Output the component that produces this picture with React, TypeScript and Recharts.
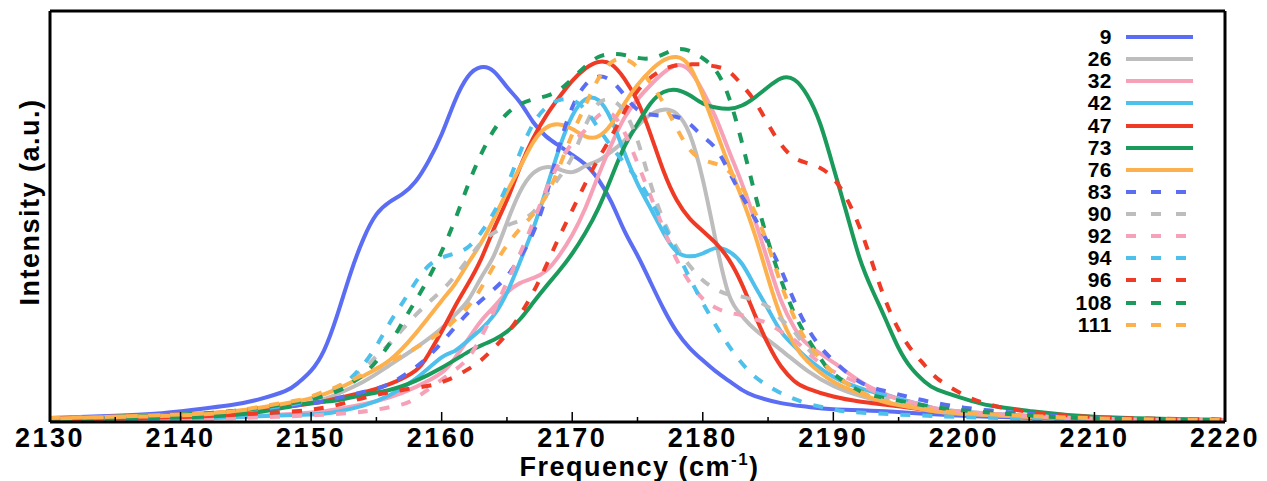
import React from "react";
import { LineChart, Line, XAxis, YAxis, Legend } from "recharts";

const FONT = "'Liberation Sans', Arial, Helvetica, sans-serif";

const W = 1267;
const H = 481;
const PLOT_TOP = 12;
const PLOT_BOTTOM = 422;
const PLOT_LEFT = 50;
const PLOT_RIGHT = 1225;

const X_TICKS = [
  2130, 2135, 2140, 2145, 2150, 2155, 2160, 2165, 2170, 2175, 2180, 2185, 2190,
  2195, 2200, 2205, 2210, 2215, 2220,
];
const Y_MAX = 100;

const BLUE = "#5b6ef3";
const GRAY = "#bdbdbd";
const PINK = "#f7a1b8";
const LBLUE = "#4ec0ec";
const RED = "#ef3b25";
const GREEN = "#1a9a5b";
const ORANGE = "#fdb14e";

type Pt = [number, number];

const s9: Pt[] = [
  [2130, 1], [2135, 1.5], [2138, 2], [2141, 3], [2144, 4.2], [2146, 5.5], [2148, 7.5],
  [2149, 9.5], [2150, 12.5], [2151, 17.5], [2152, 26], [2153, 36], [2154, 44.5],
  [2155, 50.5], [2156, 53.5], [2157, 55.5], [2158, 58.5], [2159, 63.5], [2160, 70],
  [2161, 78], [2162, 84], [2163, 86.3], [2164, 85.3], [2165, 81.5], [2166, 77.8],
  [2167, 73], [2168, 69.5], [2169, 67.2], [2170, 65], [2171, 62.7], [2172, 59],
  [2173, 53.5], [2174, 46.5], [2175, 40.5], [2176, 34], [2177, 27.5], [2178, 22],
  [2179, 18], [2180, 15], [2181, 12.3], [2182, 10], [2183, 7.8], [2184, 6.3],
  [2186, 4.6], [2188, 3.7], [2190, 3.1], [2194, 2.6], [2200, 1.5], [2210, 0.7], [2220, 0.4],
];

const s26: Pt[] = [
  [2130, 0.7], [2140, 1.5], [2145, 2.5], [2150, 4.8], [2152, 6.8], [2154, 9.8],
  [2156, 13.8], [2158, 18], [2160, 22.8], [2161, 26], [2162, 29.5], [2163, 35],
  [2164, 40.5], [2165, 48.5], [2166, 56], [2167, 60.5], [2168, 62], [2169, 61.5],
  [2170, 60.8], [2171, 62.3], [2172, 63.6], [2173, 65.8], [2174, 68.5], [2175, 72],
  [2176, 74.8], [2177, 76], [2178, 75], [2179, 70], [2180, 59], [2181, 44], [2182, 31],
  [2183, 25.8], [2184, 22.5], [2186, 17.5], [2188, 12.5], [2190, 8.8], [2192, 6.4],
  [2194, 4.8], [2197, 3], [2200, 2], [2210, 0.8], [2220, 0.4],
];

const s32: Pt[] = [
  [2130, 0.4], [2140, 0.8], [2145, 1.3], [2150, 2.3], [2152, 3.1], [2154, 4.3],
  [2156, 6], [2158, 8.5], [2160, 12], [2161, 15.5], [2162, 20], [2163, 24.5],
  [2164, 28], [2165, 31.5], [2166, 33.8], [2167, 35], [2168, 36.8], [2169, 40.5],
  [2170, 45.5], [2171, 52], [2172, 60], [2173, 67.5], [2174, 74], [2175, 78.5],
  [2176, 82], [2177, 85], [2178, 86.8], [2179, 85.5], [2180, 80.5], [2181, 74],
  [2182, 66], [2183, 58], [2184, 49], [2185, 39], [2186, 29.5], [2187, 23],
  [2188, 19], [2190, 14.5], [2192, 10], [2194, 6.8], [2197, 3.5], [2200, 2.2],
  [2210, 0.8], [2220, 0.4],
];

const s42: Pt[] = [
  [2130, 0.5], [2140, 0.8], [2145, 1.3], [2150, 1.8], [2152, 2.5], [2154, 4],
  [2156, 6.5], [2158, 10.5], [2160, 15.7], [2161, 17.3], [2162, 19.8], [2163, 22.5],
  [2164, 26], [2165, 31.5], [2166, 39], [2167, 47], [2168, 56.5], [2169, 66.5],
  [2170, 74.5], [2171, 78.5], [2172, 78.3], [2173, 73.5], [2174, 65.5], [2175, 58],
  [2176, 52], [2177, 46], [2178, 41.5], [2179, 40.3], [2180, 41], [2181, 42.3],
  [2182, 41.5], [2183, 38.5], [2184, 33], [2185, 27.5], [2186, 22], [2187, 18.5],
  [2188, 15.5], [2190, 11], [2192, 8.3], [2194, 6.5], [2197, 4], [2200, 2.5],
  [2210, 0.8], [2220, 0.4],
];

const s47: Pt[] = [
  [2130, 0.8], [2140, 1.8], [2145, 2.8], [2150, 4.5], [2152, 5.8], [2154, 7.2],
  [2156, 9.2], [2158, 12.5], [2159, 16.5], [2160, 22], [2161, 28], [2162, 33.5],
  [2163, 39.5], [2164, 47], [2165, 54], [2166, 62], [2167, 69], [2168, 74.5],
  [2169, 79], [2170, 83], [2171, 86], [2172, 87.6], [2173, 87], [2174, 83.5],
  [2175, 78], [2176, 70], [2177, 61], [2178, 54], [2179, 49.5], [2180, 46.5],
  [2181, 43.5], [2182, 39.5], [2183, 33.5], [2184, 26], [2185, 19], [2186, 13.5],
  [2187, 10], [2188, 8.2], [2190, 6.2], [2192, 5], [2194, 4.2], [2197, 3], [2200, 2.2],
  [2210, 0.8], [2220, 0.4],
];

const s73: Pt[] = [
  [2130, 0.5], [2140, 1.1], [2145, 2], [2148, 3.5], [2150, 4.6], [2152, 5.3],
  [2154, 6.6], [2156, 7.8], [2158, 10], [2160, 13.2], [2162, 17], [2163, 18.6],
  [2164, 20], [2165, 22], [2166, 25], [2167, 29], [2168, 33], [2169, 36.8],
  [2170, 41], [2171, 46], [2172, 52], [2173, 59.5], [2174, 67], [2175, 72.5],
  [2176, 77.5], [2177, 80.3], [2178, 80.8], [2179, 79.5], [2180, 77.5], [2181, 76.5],
  [2182, 76.2], [2183, 77], [2184, 79], [2185, 81.5], [2186, 83.6], [2187, 83.3],
  [2188, 79.5], [2189, 72.5], [2190, 62], [2191, 51], [2192, 40], [2193, 32],
  [2194, 25], [2195, 18], [2196, 13], [2197, 9.8], [2198, 7.8], [2200, 5.7],
  [2202, 4], [2205, 2.7], [2210, 1.3], [2220, 0.5],
];

const s76: Pt[] = [
  [2130, 0.8], [2140, 1.8], [2145, 3], [2148, 4.5], [2150, 5.8], [2152, 8],
  [2154, 11.2], [2156, 15], [2158, 21.5], [2160, 29.5], [2161, 33.5], [2162, 38.5],
  [2163, 43.5], [2164, 49.5], [2165, 56], [2166, 62], [2167, 68], [2168, 71.6],
  [2169, 72.4], [2170, 71.3], [2171, 69.5], [2172, 69.5], [2173, 72.5], [2174, 77.5],
  [2175, 82], [2176, 85.5], [2177, 88], [2178, 88.8], [2179, 86.5], [2180, 79.5],
  [2181, 71], [2182, 62.5], [2183, 54.5], [2184, 45.5], [2185, 35], [2186, 25.5],
  [2187, 19], [2188, 14.8], [2190, 9.8], [2192, 7], [2194, 4.8], [2197, 3],
  [2200, 2], [2210, 0.8], [2220, 0.4],
];

const s83: Pt[] = [
  [2130, 0.7], [2140, 1.5], [2145, 2.6], [2150, 4.5], [2152, 5.8], [2154, 7.3],
  [2156, 9.3], [2158, 13.3], [2159, 16], [2160, 19.3], [2161, 23], [2162, 26.5],
  [2163, 29.5], [2164, 32.3], [2165, 35.5], [2166, 40], [2167, 46], [2168, 55],
  [2169, 67], [2170, 76.5], [2171, 82], [2172, 84], [2173, 83], [2174, 79.5],
  [2175, 76], [2176, 74.8], [2177, 74.5], [2178, 74.2], [2179, 72.5], [2180, 69.5],
  [2181, 66.5], [2182, 61], [2183, 55], [2184, 49.5], [2185, 43.5], [2186, 37],
  [2187, 29.5], [2188, 23], [2189, 18.3], [2190, 15], [2192, 9.8], [2194, 7.5],
  [2196, 5.9], [2200, 3.5], [2205, 2], [2210, 1], [2220, 0.4],
];

const s90: Pt[] = [
  [2130, 0.8], [2140, 1.8], [2145, 3], [2148, 4.3], [2150, 5.5], [2152, 8.5],
  [2154, 13], [2155, 16], [2156, 19], [2158, 26], [2160, 32], [2161, 35.5],
  [2162, 39.5], [2163, 43.5], [2164, 46], [2165, 47.8], [2166, 49], [2167, 51],
  [2168, 55], [2169, 59.5], [2170, 64.5], [2171, 72], [2172, 77.5], [2173, 78.3],
  [2174, 75.5], [2175, 68.5], [2176, 58], [2177, 49], [2178, 42.5], [2179, 38],
  [2180, 34.5], [2181, 32.3], [2182, 31], [2183, 30.5], [2184, 29.5], [2185, 28],
  [2186, 25], [2187, 22], [2188, 18], [2190, 12], [2192, 7.5], [2194, 5.5],
  [2197, 3.5], [2200, 2.2], [2210, 0.8], [2220, 0.4],
];

const s92: Pt[] = [
  [2130, 0.3], [2140, 0.6], [2145, 1], [2150, 1.6], [2153, 2.2], [2155, 3],
  [2157, 4.3], [2158, 5.8], [2159, 8], [2160, 10.3], [2161, 12.6], [2162, 15.5],
  [2163, 20.5], [2164, 27], [2165, 34], [2166, 41], [2167, 48.5], [2168, 56.5],
  [2169, 63], [2170, 67.8], [2171, 71], [2172, 74.5], [2173, 75], [2174, 70.5],
  [2175, 63], [2176, 55], [2177, 47], [2178, 39.5], [2179, 34], [2180, 30],
  [2181, 27.8], [2182, 26.6], [2183, 26], [2184, 25], [2185, 24], [2186, 22],
  [2187, 20], [2188, 17], [2189, 14.3], [2190, 12.3], [2192, 9.3], [2194, 6.5],
  [2197, 4], [2200, 2.5], [2210, 0.8], [2220, 0.4],
];

const s94: Pt[] = [
  [2130, 0.7], [2140, 1.6], [2145, 2.8], [2148, 4], [2150, 5.5], [2152, 8],
  [2153, 10.5], [2154, 14], [2155, 18.5], [2156, 24], [2157, 29], [2158, 34],
  [2159, 38], [2160, 40], [2161, 41], [2162, 42.5], [2163, 46], [2164, 51],
  [2165, 57.5], [2166, 65.5], [2167, 72.5], [2168, 76.5], [2169, 78.3], [2170, 78.3],
  [2171, 76], [2172, 71.5], [2173, 67], [2174, 63], [2175, 59], [2176, 54],
  [2177, 48], [2178, 41.5], [2179, 35], [2180, 29], [2181, 23.5], [2182, 18.5],
  [2183, 14.3], [2184, 11], [2185, 8.8], [2186, 7], [2188, 4.5], [2190, 3.1],
  [2192, 2.3], [2200, 1.2], [2210, 0.5], [2220, 0.3],
];

const s96: Pt[] = [
  [2130, 0.5], [2140, 1.2], [2145, 1.9], [2150, 3], [2153, 5], [2155, 6.6],
  [2157, 7.8], [2159, 8.8], [2160, 9.7], [2161, 11], [2162, 12.8], [2163, 15],
  [2164, 18], [2165, 21.5], [2166, 26], [2167, 31.5], [2168, 38], [2169, 45],
  [2170, 51.5], [2171, 58], [2172, 64], [2173, 69.5], [2174, 75.5], [2175, 80.5],
  [2176, 83.8], [2177, 85.8], [2178, 86.8], [2179, 87], [2180, 87], [2181, 86.5],
  [2182, 85.3], [2183, 82], [2184, 78], [2185, 72.5], [2186, 67.5], [2187, 64.3],
  [2188, 63], [2189, 61.8], [2190, 59.3], [2191, 54.5], [2192, 47.5], [2193, 38.5],
  [2194, 29.5], [2195, 22.5], [2196, 17.5], [2197, 13.8], [2198, 10.5], [2200, 6.6],
  [2202, 4.2], [2205, 2.5], [2210, 1.2], [2215, 0.8], [2220, 0.6],
];

const s108: Pt[] = [
  [2130, 0.8], [2140, 1.8], [2145, 3], [2148, 4.3], [2150, 5.5], [2152, 7.5],
  [2153, 9.3], [2154, 11.5], [2155, 14.8], [2156, 19], [2157, 24.2], [2158, 29.5],
  [2159, 35], [2160, 41.5], [2161, 49], [2162, 57.5], [2163, 65], [2164, 71],
  [2165, 75], [2166, 77.3], [2167, 78.5], [2168, 79.3], [2169, 80.8], [2170, 83.5],
  [2171, 86.5], [2172, 88.8], [2173, 89.5], [2174, 89.3], [2175, 88.6], [2176, 88.5],
  [2177, 89.5], [2178, 90.7], [2179, 90.3], [2180, 88.5], [2181, 85.5], [2182, 79],
  [2183, 68], [2184, 55.5], [2185, 44], [2186, 34.5], [2187, 26.5], [2188, 20.5],
  [2189, 15.5], [2190, 11.8], [2192, 7.6], [2194, 5.8], [2197, 4], [2200, 2.8],
  [2205, 1.6], [2210, 0.9], [2220, 0.5],
];

const s111: Pt[] = [
  [2130, 1], [2135, 1.2], [2140, 1.6], [2143, 2.2], [2145, 3.1], [2147, 4.2],
  [2149, 5.3], [2150, 6.2], [2151, 7.4], [2152, 8.6], [2154, 11.5], [2156, 14.5],
  [2158, 18], [2160, 22], [2161, 24.8], [2162, 28], [2163, 32.5], [2164, 38],
  [2165, 43], [2166, 47], [2167, 50.5], [2168, 55], [2169, 62], [2170, 70], [2171, 77],
  [2172, 83.5], [2173, 87.5], [2174, 88.3], [2175, 86.3], [2176, 82.5], [2177, 77.5],
  [2178, 71.5], [2179, 66.3], [2180, 63.8], [2181, 62.8], [2182, 61], [2183, 57],
  [2184, 51], [2185, 43], [2186, 33.5], [2187, 25.5], [2188, 19.5], [2190, 12],
  [2192, 7.5], [2194, 5], [2197, 3.2], [2200, 2.2], [2210, 0.9], [2220, 0.5],
];

const SERIES = [
  { name: "9", color: BLUE, dashed: false, pts: s9 },
  { name: "26", color: GRAY, dashed: false, pts: s26 },
  { name: "32", color: PINK, dashed: false, pts: s32 },
  { name: "42", color: LBLUE, dashed: false, pts: s42 },
  { name: "47", color: RED, dashed: false, pts: s47 },
  { name: "73", color: GREEN, dashed: false, pts: s73 },
  { name: "76", color: ORANGE, dashed: false, pts: s76 },
  { name: "83", color: BLUE, dashed: true, pts: s83 },
  { name: "90", color: GRAY, dashed: true, pts: s90 },
  { name: "92", color: PINK, dashed: true, pts: s92 },
  { name: "94", color: LBLUE, dashed: true, pts: s94 },
  { name: "96", color: RED, dashed: true, pts: s96 },
  { name: "108", color: GREEN, dashed: true, pts: s108 },
  { name: "111", color: ORANGE, dashed: true, pts: s111 },
];

function BottomTick(props: any) {
  const { x, payload } = props;
  const v = payload.value as number;
  const major = v % 10 === 0;
  return (
    <g>
      <line
        x1={x}
        x2={x}
        y1={PLOT_BOTTOM}
        y2={PLOT_BOTTOM - (major ? 10 : 5)}
        stroke="#000"
        strokeWidth={1.5}
      />
      {major && (
        <text
          x={x}
          y={447}
          textAnchor="middle"
          fontFamily={FONT}
          fontWeight={700}
          fontSize={27}
          letterSpacing={2.5}
          fill="#000"
        >
          {v}
        </text>
      )}
    </g>
  );
}

function NoLabel() {
  return <g />;
}

function XTitle() {
  return (
    <text
      x={(PLOT_LEFT + PLOT_RIGHT) / 2 + 2}
      y={476}
      textAnchor="middle"
      fontFamily={FONT}
      fontWeight={700}
      fontSize={27}
      letterSpacing={1.5}
      fill="#000"
    >
      Frequency (cm
      <tspan fontSize={17} dy={-11}>-1</tspan>
      <tspan dy={11}>)</tspan>
    </text>
  );
}

function YTitle() {
  return (
    <text
      x={39}
      y={202}
      transform="rotate(-90 39 202)"
      textAnchor="middle"
      fontFamily={FONT}
      fontWeight={700}
      fontSize={27}
      letterSpacing={1.5}
      fill="#000"
    >
      Intensity (a.u.)
    </text>
  );
}

function LegendBox() {
  return (
    <div style={{ fontFamily: FONT, fontWeight: 700, color: "#000" }}>
      {SERIES.map((s) => (
        <div
          key={s.name}
          style={{ display: "flex", alignItems: "center", height: 22.13 }}
        >
          <span
            style={{
              width: 53,
              textAlign: "right",
              fontSize: 21,
              letterSpacing: 0.5,
              lineHeight: "22px",
            }}
          >
            {s.name}
          </span>
          <svg width={70} height={10} style={{ marginLeft: 14, display: "block" }}>
            <line
              x1={0}
              x2={67}
              y1={5}
              y2={5}
              stroke={s.color}
              strokeWidth={4}
              strokeDasharray={s.dashed ? "10 15" : undefined}
            />
          </svg>
        </div>
      ))}
    </div>
  );
}

export default function App() {
  return (
    <div
      style={{
        position: "absolute",
        left: 0,
        top: 0,
        width: W,
        height: H,
        background: "#fff",
      }}
    >
      <LineChart
        width={W}
        height={H}
        margin={{ top: PLOT_TOP - 1, right: W - PLOT_RIGHT - 1, bottom: 0, left: PLOT_LEFT - 1 }}
      >
        <XAxis
          xAxisId="b"
          type="number"
          dataKey="f"
          domain={[2130, 2220]}
          ticks={X_TICKS}
          interval={0}
          height={H - PLOT_BOTTOM}
          axisLine={{ stroke: "#000", strokeWidth: 3 }}
          tickLine={false}
          tick={<BottomTick />}
          label={<XTitle />}
        />
        <XAxis
          xAxisId="t"
          orientation="top"
          type="number"
          dataKey="f"
          domain={[2130, 2220]}
          ticks={X_TICKS}
          interval={0}
          height={1}
          mirror
          tickSize={9}
          tickMargin={0}
          axisLine={{ stroke: "#000", strokeWidth: 3 }}
          tickLine={{ stroke: "#000", strokeWidth: 1.5 }}
          tick={<NoLabel />}
        />
        <YAxis
          yAxisId="l"
          type="number"
          domain={[0, Y_MAX]}
          width={1}
          tick={false}
          tickLine={false}
          axisLine={{ stroke: "#000", strokeWidth: 3 }}
          label={<YTitle />}
        />
        <YAxis
          yAxisId="r"
          orientation="right"
          type="number"
          domain={[0, Y_MAX]}
          width={1}
          tick={false}
          tickLine={false}
          axisLine={{ stroke: "#000", strokeWidth: 3 }}
        />
        <Legend
          layout="vertical"
          align="center"
          verticalAlign="middle"
          content={<LegendBox />}
          wrapperStyle={{ position: "absolute", left: 1059, top: 26, width: "auto", margin: 0 }}
        />
        {SERIES.map((s) => (
          <Line
            key={s.name}
            name={s.name}
            xAxisId="b"
            yAxisId="l"
            data={s.pts.map(([f, v]) => ({ f, v }))}
            dataKey="v"
            type="natural"
            stroke={s.color}
            strokeWidth={4}
            strokeDasharray={s.dashed ? "10 12" : undefined}
            dot={false}
            activeDot={false}
            isAnimationActive={false}
          />
        ))}
      </LineChart>
    </div>
  );
}
